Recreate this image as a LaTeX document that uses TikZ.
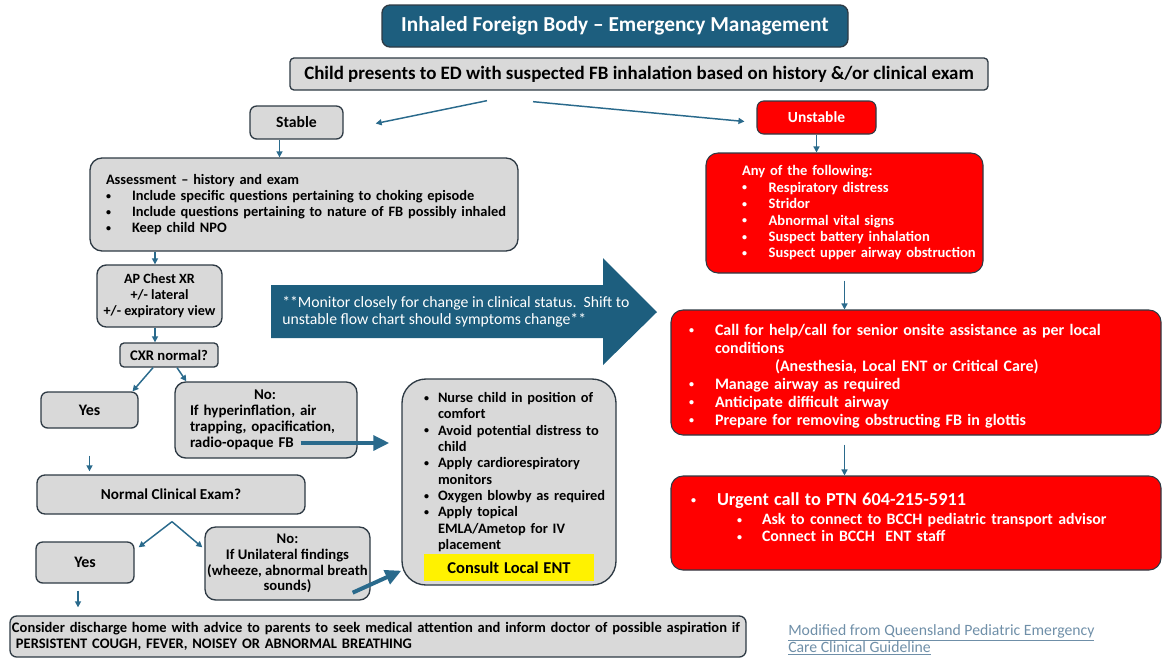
\documentclass[tikz,border=0pt]{standalone}
\usepackage{fontspec}
\setmainfont{Carlito}
\usetikzlibrary{arrows.meta,calc,positioning}
\definecolor{fbteal}{HTML}{1D5E7E}
\definecolor{fbline}{HTML}{2A6A8C}
\definecolor{fbgray}{HTML}{D9D9D9}
\definecolor{fbedge}{HTML}{2E3A44}
\definecolor{fbred}{HTML}{FF0000}
\definecolor{fblink}{HTML}{6F8FA8}
\newcommand{\bl}[1]{\makebox[#1][l]{\raisebox{0.2ex}{\fontsize{7.5}{7.5}\selectfont\textbullet}}}

\begin{document}
\begin{tikzpicture}[x=0.75pt,y=-0.75pt,
  box/.style={draw=fbedge,line width=1pt,fill=fbgray,rounded corners=5pt,inner sep=0pt,
    font=\bfseries\fontsize{11}{12}\selectfont,align=center},
  redbox/.style={draw=fbedge,line width=0.8pt,fill=fbred,text=white,rounded corners=9pt,inner sep=0pt,
    font=\bfseries\fontsize{11}{12.3}\selectfont,align=left},
  arr/.style={draw=fbline,line width=1.1pt,-{Triangle[length=4.5pt,width=4.5pt]}},
  bigarr/.style={draw=fbline,line width=3pt,-{Triangle[length=12pt,width=11pt]}}]

\useasboundingbox (0,0) rectangle (1163,658);

\node[box,fill=fbteal,text=white,rounded corners=6pt,minimum width=349.5pt,minimum height=31.5pt,
  font=\bfseries\fontsize{16}{18}\selectfont] (title) at (615,26) {Inhaled Foreign Body – Emergency Management};
\node[box,rounded corners=3pt,minimum width=523.5pt,minimum height=24pt,
  font=\bfseries\fontsize{14.2}{16}\selectfont] (child) at (639,74)
  {Child presents to ED with suspected FB inhalation based on history \&/or clinical exam};

% stable side
\node[box,minimum width=69.75pt,minimum height=24.75pt,font=\bfseries\fontsize{11.8}{13}\selectfont] (stable) at (296.5,122.5) {Stable};
\node[box,rounded corners=9pt,text width=321pt,minimum height=69.75pt,align=left,
  font=\bfseries\fontsize{10.8}{12}\selectfont] (assess) at (304,204.5)
  {\leftskip=12pt\rightskip=-30pt plus 1fil Assessment – history and exam\\
   \bl{19.5pt}Include specific questions pertaining to choking episode\\
   \bl{19.5pt}Include questions pertaining to nature of FB possibly inhaled\\
   \bl{19.5pt}Keep child NPO\par};
\node[box,rounded corners=7pt,minimum width=93.75pt,minimum height=46.5pt,
  font=\bfseries\fontsize{10.6}{12}\selectfont] (cxr) at (159.5,296)
  {AP Chest XR\\+/- lateral\\+/- expiratory view};
\node[box,rounded corners=3pt,minimum width=73.5pt,minimum height=18pt] (cxrq) at (169,355) {CXR normal?};
\node[box,minimum width=72.75pt,minimum height=27pt,font=\bfseries\fontsize{12}{13}\selectfont] (yesA) at (89.5,410) {Yes};
\node[box,rounded corners=8pt,text width=136.5pt,minimum height=57pt,align=left,
  font=\bfseries\fontsize{11.2}{12}\selectfont] (noA) at (266,420)
  {\leftskip=11.25pt\rightskip=-20pt plus 1fil \hspace*{48pt}No:\\
   If hyperinflation, air\\trapping, opacification,\\radio-opaque FB\par};
\node[box,rounded corners=6pt,minimum width=201pt,minimum height=29.25pt,font=\bfseries\fontsize{11.4}{13}\selectfont] (exam) at (171,494.5) {Normal Clinical Exam?};
\node[box,minimum width=73.5pt,minimum height=30.75pt,font=\bfseries\fontsize{12}{13}\selectfont] (yesB) at (85,562.5) {Yes};
\node[box,rounded corners=8pt,minimum width=123.75pt,minimum height=54.75pt,
  font=\bfseries\fontsize{11}{11.8}\selectfont] (noB) at (287.5,563.5)
  {No:\\If Unilateral findings\\(wheeze, abnormal breath\\sounds)};
\node[box,text width=552pt,minimum height=30.75pt,align=left,
  font=\bfseries\fontsize{10.9}{12}\selectfont] (home) at (378,636.5)
  {\leftskip=1.5pt\rightskip=-20pt plus 1fil Consider discharge home with advice to parents to seek medical attention and inform doctor of possible aspiration if\\
   \hspace*{3pt}PERSISTENT COUGH, FEVER, NOISEY OR ABNORMAL BREATHING\par};

% care box
\node[box,rounded corners=18pt,text width=160.5pt,minimum height=154.5pt,align=left,
  font=\bfseries\fontsize{10.8}{12.25}\selectfont] (care) at (509,482)
  {\leftskip=16.5pt\rightskip=-16pt plus 1fil
   \rule{0pt}{15pt}\bl{10.5pt}Nurse child in position of\\\hspace*{10.5pt}comfort\\
   \bl{10.5pt}Avoid potential distress to\\\hspace*{10.5pt}child\\
   \bl{10.5pt}Apply cardiorespiratory\\\hspace*{10.5pt}monitors\\
   \bl{10.5pt}Oxygen blowby as required\\
   \bl{10.5pt}Apply topical\\\hspace*{10.5pt}EMLA/Ametop for IV\\\hspace*{10.5pt}placement\\[1pt]
   {\fboxsep=0pt\colorbox{yellow}{\parbox[c][20.25pt][c]{127.5pt}{\centering\fontsize{12.4}{13}\selectfont Consult Local ENT}}}\par};

% monitor arrow
\fill[fbteal] (271,285) -- (603,285) -- (603,258) -- (657,312) -- (603,365) -- (603,338) -- (271,338) -- cycle;
\node[text=white,anchor=west,align=left,inner sep=0pt,font=\fontsize{11.8}{12.75}\selectfont] (note) at (282,311.5)
  {**Monitor closely for change in clinical status.\ \ Shift to\\unstable flow chart should symptoms change**};

% unstable side
\node[redbox,align=center,rounded corners=5pt,minimum width=89.25pt,minimum height=24.75pt,
  font=\bfseries\fontsize{11.6}{13}\selectfont] (unstable) at (816.5,117.5) {Unstable};
\node[redbox,text width=207.75pt,minimum height=90pt,font=\bfseries\fontsize{10.9}{12.3}\selectfont] (anyof) at (844.5,213)
  {\leftskip=27pt\rightskip=-40pt plus 1fil Any of the following:\\
   \bl{20pt}Respiratory distress\\
   \bl{20pt}Stridor\\
   \bl{20pt}Abnormal vital signs\\
   \bl{20pt}Suspect battery inhalation\\
   \bl{20pt}Suspect upper airway obstruction\par};
\node[redbox,text width=367.5pt,minimum height=93.75pt,font=\bfseries\fontsize{12}{13.5}\selectfont] (help) at (916,372.5)
  {\leftskip=13.5pt\rightskip=-20pt plus 1fil
   \rule{0pt}{13.5pt}\bl{19.5pt}Call for help/call for senior onsite assistance as per local\\
   \hspace*{19.5pt}conditions\\
   \hspace*{64.5pt}(Anesthesia, Local ENT or Critical Care)\\
   \bl{19.5pt}Manage airway as required\\
   \bl{19.5pt}Anticipate difficult airway\\
   \bl{19.5pt}Prepare for removing obstructing FB in glottis\par};
\node[redbox,text width=367.5pt,minimum height=70.5pt,font=\bfseries\fontsize{11.9}{12.75}\selectfont] (urgent) at (916,523)
  {\leftskip=15pt\rightskip=-20pt plus 1fil
   {\fontsize{13.7}{15}\selectfont\bl{19.5pt}Urgent call to PTN 604-215-5911}\\[2pt]
   \hspace*{34.5pt}\bl{18.75pt}Ask to connect to BCCH pediatric transport advisor\\
   \hspace*{34.5pt}\bl{18.75pt}Connect in BCCH\ \ ENT staff\par
   \nointerlineskip\hbox{\rule{0pt}{9pt}}};

\node[text=fblink,anchor=west,align=left,inner sep=0pt,font=\fontsize{11.8}{12.75}\selectfont] (src) at (788,640)
  {\underline{Modified from Queensland Pediatric Emergency}\\\underline{Care Clinical Guideline}};

% connectors
\draw[arr] ($(child.south)+(-152,10)$) -- ($(stable.east)+(32,1)$);
\draw[arr] ($(child.south)+(-106,11)$) -- ($(unstable.west)+(-12,4)$);
\draw[arr] ($(stable.south)+(-17,0)$) coordinate (s1) -- (s1 |- assess.north);
\draw[arr] (assess.south -| 155,0) -- (155,0 |- cxr.north);
\draw[arr] (cxr.south -| 155,0) -- (155,0 |- cxrq.north);
\draw[arr] ($(cxrq.south)+(-16,0)$) -- ($(yesA.north)+(43,0)$);
\draw[arr] ($(cxrq.south)+(8,0)$) -- ($(noA.north west)+(12,0)$);
\draw[bigarr] ($(noA.east)+(-57,23)$) coordinate (t1) -- ($(care.west |- t1)+(-12,0)$);
\draw[arr] ($(yesA.south)+(0,27)$) -- ($(yesA.south |- exam.north)+(0,-3)$);
\draw[arr] ($(exam.south)+(1,7)$) -- ($(yesB.north east)+(4,6)$);
\draw[arr] ($(exam.south)+(1,7)$) -- ($(noB.north west)+(-2,21)$);
\draw[bigarr] ($(noB.south east)+(-18,-8)$) -- ($(care.south west)+(0,-15)$);
\draw[arr] ($(yesB.south)+(-7,7)$) coordinate (y2) -- ($(y2 |- home.north)+(0,-8)$);
\draw[arr] (unstable.south) -- (unstable.south |- anyof.north);
\draw[arr] ($(anyof.south)+(0,7)$) coordinate (a1) -- (a1 |- help.north);
\draw[arr] ($(help.south -| a1)+(0,9)$) -- (a1 |- urgent.north);
\end{tikzpicture}
\end{document}
